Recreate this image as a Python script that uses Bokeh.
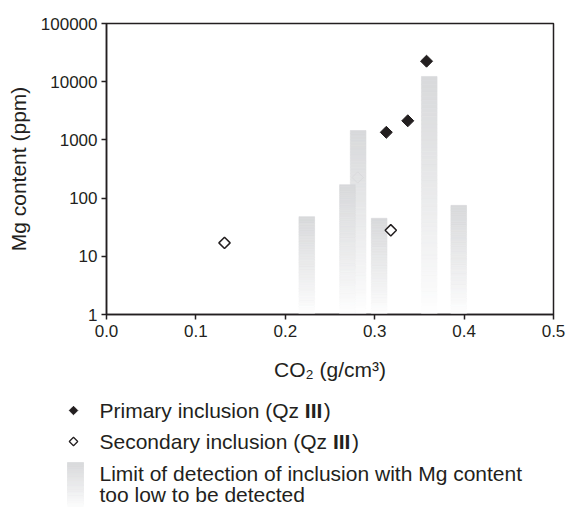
import numpy as np
from bokeh.plotting import figure
from bokeh.models import Range1d, FixedTicker, NumeralTickFormatter
from bokeh.layouts import column
from bokeh.core.properties import value
from bokeh.embed import file_html
from bokeh.resources import INLINE

# ---------------- data ----------------
bar_co2 = [0.2695, 0.2815, 0.224, 0.305, 0.361, 0.394]
bar_mg_limit = [170, 1450, 48, 45, 12300, 75]
primary_co2 = [0.313, 0.337, 0.358]
primary_mg = [1350, 2130, 22500]
secondary_co2 = [0.132, 0.318]
secondary_mg = [17, 28]
hidden_co2 = [0.281]
hidden_mg = [226]
x_ticks = [0.0, 0.1, 0.2, 0.3, 0.4, 0.5]
y_ticks = [1, 10, 100, 1000, 10000, 100000]
legend_primary = ["Primary inclusion (Qz ", "III", ")"]
legend_secondary = ["Secondary inclusion (Qz ", "III", ")"]
legend_limit = ["Limit of detection of inclusion with Mg content", "too low to be detected"]

FONT = "Liberation Sans"
INK = "#231f20"
BAR_W = 0.0175
NSEG = 60
TOP_RGB = (216, 217, 219)


def shade(f):
    r = [int(round(255 - (255 - c) * f)) for c in TOP_RGB]
    return "#%02x%02x%02x" % tuple(r)


# ---------------- main chart ----------------
p = figure(width=568, height=392, x_range=Range1d(0, 0.5), y_range=Range1d(1, 100000),
           y_axis_type="log", output_backend="svg", toolbar_location=None,
           min_border_left=106, min_border_right=15, min_border_top=23, min_border_bottom=78)
p.frame_align = False
p.grid.visible = False
p.outline_line_color = INK
p.outline_line_width = 1.5
p.background_fill_color = "white"

# gradient bars: draw taller ones first
order = sorted(range(len(bar_co2)), key=lambda i: -bar_mg_limit[i])
for i in order:
    x = bar_co2[i]
    top = bar_mg_limit[i]
    L, R, B, T, C = [], [], [], [], []
    for k in range(NSEG):
        L.append(x - BAR_W / 2)
        R.append(x + BAR_W / 2)
        B.append(top ** (k / NSEG))
        T.append(top ** ((k + 1) / NSEG))
        C.append(shade(((k + 0.5) / NSEG) ** 0.9))
    p.quad(left=L, right=R, bottom=B, top=T, fill_color=C, line_color=C, line_width=0.6)

p.scatter(hidden_co2, hidden_mg, marker="square", angle=np.pi / 4, size=8,
          fill_color=None, line_color="#d6d6d8", line_width=1.0, line_alpha=0.6)
p.scatter(secondary_co2, secondary_mg, marker="square", angle=np.pi / 4, size=8,
          fill_color="white", line_color=INK, line_width=1.5)
p.scatter(primary_co2, primary_mg, marker="square", angle=np.pi / 4, size=8.5,
          fill_color=INK, line_color=INK, line_width=1)

for ax in (p.xaxis[0], p.yaxis[0]):
    ax.axis_line_color = INK
    ax.axis_line_width = 1.5
    ax.major_tick_line_color = INK
    ax.major_tick_line_width = 1.5
    ax.major_tick_in = 0
    ax.major_tick_out = 5
    ax.minor_tick_line_color = None
    ax.major_label_text_font = FONT
    ax.major_label_text_font_size = "17px"
    ax.major_label_text_color = INK
    ax.axis_label_text_font = FONT
    ax.axis_label_text_font_size = "21px"
    ax.axis_label_text_font_style = "normal"
    ax.axis_label_text_color = INK

p.xaxis.ticker = FixedTicker(ticks=x_ticks)
p.xaxis.formatter = NumeralTickFormatter(format="0.0")
p.xaxis.major_label_standoff = 5
p.xaxis.axis_label = "CO\u2082 (g/cm\u00b3)"
p.xaxis.axis_label_standoff = 18

p.yaxis.ticker = FixedTicker(ticks=y_ticks)
p.yaxis.formatter = NumeralTickFormatter(format="0")
p.yaxis.major_label_standoff = 4
p.yaxis.axis_label = "Mg content (ppm)"
p.yaxis.axis_label_standoff = 8

# ---------------- legend ----------------
LH = 115
leg = figure(width=568, height=LH, x_range=Range1d(0, 568), y_range=Range1d(LH, 0),
             output_backend="svg", toolbar_location=None, min_border=0,
             min_border_left=0, min_border_right=0, min_border_top=0, min_border_bottom=0,
             x_axis_location=None, y_axis_location=None)
leg.frame_align = False
leg.grid.visible = False
leg.outline_line_color = None

FS = 21
TX = 99
row_y = [18, 49, 81, 102]
# markers
leg.scatter([73], [row_y[0]], marker="square", angle=np.pi / 4, size=6,
            fill_color=INK, line_color=INK)
leg.scatter([73], [row_y[1]], marker="square", angle=np.pi / 4, size=6,
            fill_color="white", line_color=INK, line_width=1.3)
# gradient swatch
sw_top, sw_bot = 70, 116
L, R, B, T, C = [], [], [], [], []
for k in range(NSEG):
    y0 = sw_bot - (sw_bot - sw_top) * k / NSEG
    y1 = sw_bot - (sw_bot - sw_top) * (k + 1) / NSEG
    L.append(67); R.append(83); B.append(y0); T.append(y1)
    C.append(shade(((k + 0.5) / NSEG) ** 0.9))
leg.quad(left=L, right=R, bottom=B, top=T, fill_color=C, line_color=C, line_width=0.6)


def em_w(s):
    w = {"P": .667, "r": .333, "i": .222, "m": .833, "a": .556, "y": .5, " ": .278,
         "n": .556, "c": .5, "l": .222, "u": .556, "s": .5, "o": .556, "(": .333,
         "Q": .778, "z": .5, "S": .667, "e": .556, "d": .556, "I": .278, ")": .333}
    return sum(w.get(ch, .556) for ch in s) * FS


def draw_parts(parts, y):
    x = TX
    for j, s in enumerate(parts):
        bold = (j == 1)
        leg.text([x], [y], text=[s], text_font=value(FONT),
                 text_font_size="%dpx" % FS, text_color=INK,
                 text_font_style="bold" if bold else "normal",
                 text_baseline="middle", text_align="left")
        x += em_w(s) + (1.5 if bold else 0)


draw_parts(legend_primary, row_y[0])
draw_parts(legend_secondary, row_y[1])
for s, y in zip(legend_limit, row_y[2:]):
    leg.text([TX], [y], text=[s], text_font=value(FONT), text_font_size="%dpx" % FS,
             text_color=INK, text_baseline="middle", text_align="left")

layout = column(p, leg, spacing=0)
open("out.html", "w").write(file_html(layout, INLINE))
